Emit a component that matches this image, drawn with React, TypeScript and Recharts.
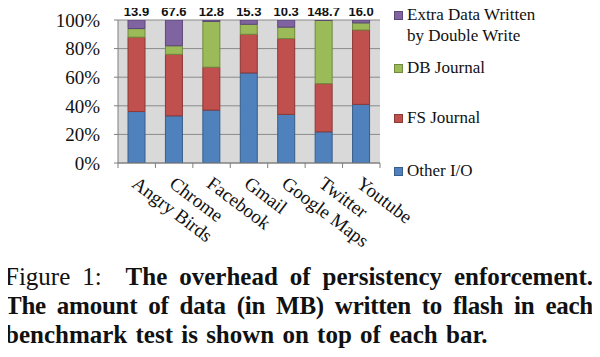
import { BarChart, Bar, XAxis, YAxis, CartesianGrid, LabelList } from 'recharts';

const apps = ['Angry Birds', 'Chrome', 'Facebook', 'Gmail', 'Google Maps', 'Twitter', 'Youtube'];
// share of written data (%), bottom to top of each stack
const otherIO = [36, 33, 37, 63, 34, 21.8, 41];
const fsJournal = [52, 43, 30, 27, 53, 33.7, 52];
const dbJournal = [6, 6, 32, 7, 8, 44.2, 5];
const doubleWrite = [6, 18, 1, 3, 5, 0.3, 2];
// MB written to flash per benchmark
const totalMB = [13.9, 67.6, 12.8, 15.3, 10.3, 148.7, 16.0];
const yTicks = [0, 20, 40, 60, 80, 100];

const series = [
  { key: 'other', name: 'Other I/O', fill: '#4f81bd', stroke: '#385d8a' },
  { key: 'fs', name: 'FS Journal', fill: '#c0504d', stroke: '#8c3836' },
  { key: 'db', name: 'DB Journal', fill: '#9bbb59', stroke: '#71893f' },
  { key: 'dw', name: 'Extra Data Written by Double Write', fill: '#8064a2', stroke: '#5c4776' },
];

const chartData = apps.map((name, i) => ({
  name,
  other: otherIO[i],
  fs: fsJournal[i],
  db: dbJournal[i],
  dw: doubleWrite[i],
  total: totalMB[i],
}));

const serif = '"Liberation Serif", "Times New Roman", serif';
const PLOT_LEFT = 118;
const PLOT_RIGHT = 380;

const AppTick = (props: any) => {
  const { x, y, payload, index } = props;
  const band = (PLOT_RIGHT - PLOT_LEFT) / apps.length;
  return (
    <g>
      <line x1={x - band / 2} x2={x - band / 2} y1={y} y2={y + 5} stroke="#7f7f7f" />
      {index === apps.length - 1 && (
        <line x1={x + band / 2} x2={x + band / 2} y1={y} y2={y + 5} stroke="#7f7f7f" />
      )}
      <text
        x={x - 6}
        y={y + 23}
        transform={`rotate(37, ${x - 6}, ${y + 23})`}
        textAnchor="start"
        fontFamily={serif}
        fontSize={19}
        fill="#111"
      >
        {payload.value}
      </text>
    </g>
  );
};

const TotalLabel = (props: any) => {
  const { x, y, width, value } = props;
  return (
    <text
      x={x + width / 2}
      y={y - 4}
      textAnchor="middle"
      fontFamily='"Liberation Sans", Arial, sans-serif'
      fontWeight="bold"
      fontSize={13}
      fill="#111"
    >
      {Number(value).toFixed(1)}
    </text>
  );
};

const legendTops = [4, 57, 107, 160];

const LegendBox = () => (
  <div style={{ position: 'absolute', left: 394, top: 0, width: 200, height: 190, fontFamily: serif, fontSize: 17, color: '#111' }}>
    {[...series].reverse().map((s, i) => (
      <div key={s.key} style={{ position: 'absolute', top: legendTops[i], left: 0, display: 'flex', alignItems: 'flex-start' }}>
        <span style={{ display: 'inline-block', width: 7, height: 7, background: s.fill, border: `1px solid ${s.stroke}`, marginTop: 7, marginRight: 4 }} />
        <span style={{ lineHeight: '21px', width: 140 }}>{s.name}</span>
      </div>
    ))}
  </div>
);

const App = () => {
  return (
    <div style={{ position: 'relative', width: 600, height: 357, margin: -8, background: '#fff', overflow: 'hidden' }}>
      <BarChart
        width={600}
        height={255}
        data={chartData}
        margin={{ top: 20, right: 600 - PLOT_RIGHT, left: 0, bottom: 0 }}
        barSize={17}
      >
        <CartesianGrid vertical={false} fill="#d9d9d9" stroke="#8a8a8a" />
        <XAxis
          dataKey="name"
          height={92}
          interval={0}
          tickLine={false}
          tickSize={0}
          tickMargin={0}
          axisLine={{ stroke: '#7f7f7f' }}
          tick={<AppTick />}
        />
        <YAxis
          width={PLOT_LEFT}
          domain={[0, 100]}
          ticks={yTicks}
          allowDataOverflow
          tickFormatter={(v: number) => `${v}%`}
          tickSize={4}
          tickMargin={14}
          tickLine={{ stroke: '#7f7f7f' }}
          axisLine={{ stroke: '#7f7f7f' }}
          tick={{ fontFamily: serif, fontSize: 19, fill: '#111' }}
        />
        {series.map((s) => (
          <Bar
            key={s.key}
            dataKey={s.key}
            name={s.name}
            stackId="a"
            fill={s.fill}
            stroke={s.stroke}
            strokeWidth={1}
            isAnimationActive={false}
          >
            {s.key === 'dw' && <LabelList dataKey="total" content={<TotalLabel />} />}
          </Bar>
        ))}
      </BarChart>
      <LegendBox />
      <div
        style={{
          position: 'absolute',
          left: 5,
          top: 262,
          width: 588,
          fontFamily: serif,
          fontSize: 25,
          lineHeight: '29px',
          color: '#111',
        }}
      >
        <div style={{ textAlign: 'justify', textAlignLast: 'justify', whiteSpace: 'nowrap' }}>
          Figure 1:&nbsp; <b>The overhead of persistency enforcement.</b>
        </div>
        <div style={{ textAlign: 'justify', textAlignLast: 'justify', fontWeight: 'bold', letterSpacing: -0.25 }}>
          The amount of data (in MB) written to flash in each
        </div>
        <div style={{ fontWeight: 'bold', wordSpacing: 2 }}>benchmark test is shown on top of each bar.</div>
      </div>
    </div>
  );
};

export default App;
